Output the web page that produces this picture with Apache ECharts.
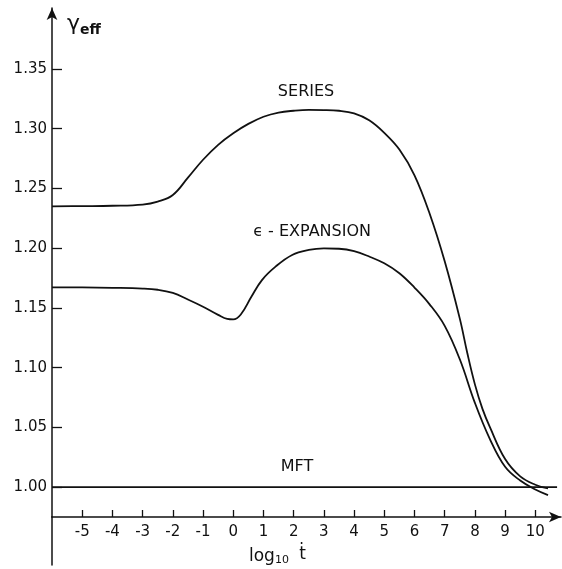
<!DOCTYPE html>
<html>
<head>
<meta charset="utf-8">
<script src="https://cdn.jsdelivr.net/npm/echarts@6/dist/echarts.min.js"></script>
<style>
  html, body { margin: 0; padding: 0; background: #fff; }
  #main { width: 562px; height: 569px; }
</style>
</head>
<body>
<div id="main"></div>
<script>
// values
var seriesX = [-6, -5, -4, -3, -2.5, -2.0, -1.5, -1.0, -0.5, 0, 0.5, 1.0, 1.5, 2.0, 2.5, 3.0, 3.5, 4.0, 4.5, 5.0, 5.5, 6.0, 6.5, 7.0, 7.5, 7.75, 8.0, 8.25, 8.5, 9.0, 9.5, 10.0, 10.42];
var seriesY = [1.235, 1.2352, 1.2355, 1.2365, 1.239, 1.2445, 1.259, 1.274, 1.2865, 1.2962, 1.304, 1.310, 1.3135, 1.315, 1.3157, 1.3156, 1.315, 1.3128, 1.307, 1.2965, 1.2825, 1.261, 1.229, 1.189, 1.141, 1.112, 1.086, 1.0655, 1.050, 1.0235, 1.009, 1.002, 0.9989];

var epsX = [-6, -5, -4, -3, -2.5, -2.0, -1.5, -1.0, -0.5, -0.2, 0, 0.25, 0.6, 0.95, 1.4, 1.95, 2.5, 3.0, 3.5, 4.0, 4.5, 5.0, 5.5, 6.0, 6.5, 7.0, 7.5, 8.0, 8.5, 9.0, 9.5, 10.0, 10.42];
var epsY = [1.1672, 1.1671, 1.1668, 1.1662, 1.1652, 1.1625, 1.157, 1.151, 1.1442, 1.1408, 1.1404, 1.1445, 1.1593, 1.1733, 1.1845, 1.1943, 1.1985, 1.1998, 1.1995, 1.1975, 1.193, 1.1873, 1.179, 1.167, 1.153, 1.135, 1.107, 1.0705, 1.040, 1.017, 1.0055, 0.998, 0.9933];

var mftX = [-6, 10.72];
var mftY = [1.0, 1.0];

var yTicks = [1.00, 1.05, 1.10, 1.15, 1.20, 1.25, 1.30, 1.35];
var xTicks = [-5, -4, -3, -2, -1, 0, 1, 2, 3, 4, 5, 6, 7, 8, 9, 10];

function zip(xs, ys) {
  var out = [];
  for (var i = 0; i < xs.length; i++) out.push([xs[i], ys[i]]);
  return out;
}

var ink = "#111";
var font = "DejaVu Sans";

var chart = echarts.init(document.getElementById("main"));
var option = {
  animation: false,
  backgroundColor: "#fff",
  textStyle: { fontFamily: font, color: ink },
  title: [
    {
      text: "{g|γ}{s|eff}",
      left: 62,
      top: 6,
      textStyle: {
        rich: {
          g: { fontFamily: font, fontSize: 22, color: ink, fontWeight: "normal" },
          s: { fontFamily: font, fontSize: 14, fontWeight: "bold", color: ink, padding: [12, 0, 0, 0] }
        }
      }
    },
    {
      text: "{l|log}{s|10} {t|ṫ}",
      left: 244,
      top: 541,
      textStyle: {
        rich: {
          l: { fontFamily: font, fontSize: 17, color: ink, fontWeight: "normal" },
          s: { fontFamily: font, fontSize: 11, color: ink, fontWeight: "normal", padding: [8, 0, 0, 0] },
          t: { fontFamily: font, fontSize: 17, color: ink, fontWeight: "normal", padding: [0, 0, 4, 4] }
        }
      }
    }
  ],
  grid: [
    { left: 52, right: 1, top: 8, bottom: 52 },
    { left: 52, width: 1, top: 517, height: 48 }
  ],
  xAxis: [
    {
      type: "value",
      gridIndex: 0,
      min: -6,
      max: 10.85,
      splitLine: { show: false },
      axisLine: {
        onZero: false,
        lineStyle: { color: ink, width: 1.5 },
        symbol: ["none", "arrow"],
        symbolSize: [8, 12]
      },
      axisTick: {
        inside: true,
        length: 7,
        customValues: xTicks,
        lineStyle: { color: ink, width: 1.3 }
      },
      axisLabel: {
        customValues: xTicks,
        margin: 8,
        fontFamily: font,
        fontSize: 15,
        color: ink
      }
    },
    { type: "value", gridIndex: 1, show: false, min: 0, max: 1 }
  ],
  yAxis: [
    {
      type: "value",
      gridIndex: 0,
      min: 0.975,
      max: 1.401,
      splitLine: { show: false },
      axisLine: {
        show: true,
        onZero: false,
        lineStyle: { color: ink, width: 1.5 },
        symbol: ["none", "arrow"],
        symbolSize: [8, 12]
      },
      axisTick: {
        inside: true,
        length: 10,
        customValues: yTicks,
        lineStyle: { color: ink, width: 1.3 }
      },
      axisLabel: {
        customValues: yTicks,
        margin: 5,
        fontFamily: font,
        fontSize: 15,
        color: ink,
        formatter: function (v) { return v.toFixed(2); }
      }
    },
    {
      type: "value",
      gridIndex: 1,
      min: 0,
      max: 1,
      axisLine: { show: true, lineStyle: { color: ink, width: 1.5 } },
      axisTick: { show: false },
      axisLabel: { show: false },
      splitLine: { show: false }
    }
  ],
  series: [
    {
      name: "SERIES",
      type: "line",
      data: zip(seriesX, seriesY),
      smooth: 0.4,
      showSymbol: false,
      lineStyle: { color: ink, width: 1.8 },
      markPoint: {
        symbolSize: 0,
        label: { show: true, position: "inside", formatter: "SERIES", fontFamily: font, fontSize: 16, color: ink },
        data: [{ coord: [2.41, 1.3307] }]
      }
    },
    {
      name: "ϵ-EXPANSION",
      type: "line",
      data: zip(epsX, epsY),
      smooth: 0.4,
      showSymbol: false,
      lineStyle: { color: ink, width: 1.8 },
      markPoint: {
        symbolSize: 0,
        label: { show: true, position: "inside", formatter: "ϵ - EXPANSION", fontFamily: font, fontSize: 16, color: ink },
        data: [{ coord: [2.61, 1.2135] }]
      }
    },
    {
      name: "MFT",
      type: "line",
      data: zip(mftX, mftY),
      showSymbol: false,
      lineStyle: { color: ink, width: 1.6 },
      markPoint: {
        symbolSize: 0,
        label: { show: true, position: "inside", formatter: "MFT", fontFamily: font, fontSize: 16, color: ink },
        data: [{ coord: [2.11, 1.0167] }]
      }
    }
  ]
};
chart.setOption(option);
</script>
</body>
</html>
